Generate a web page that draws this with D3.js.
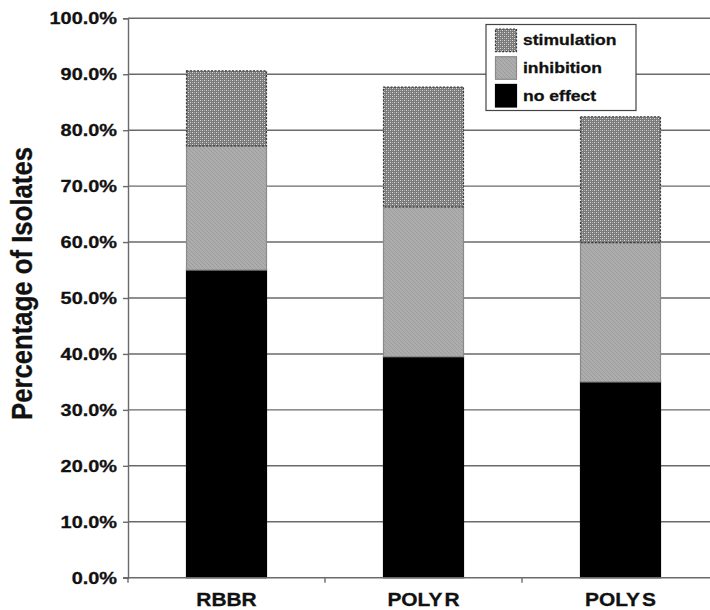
<!DOCTYPE html>
<html><head><meta charset="utf-8">
<script src="https://cdn.jsdelivr.net/npm/d3@7"></script>
<style>
html,body{margin:0;padding:0;background:#fff;}
svg text{font-family:"Liberation Sans",Arial,sans-serif;font-weight:bold;fill:#111;stroke:#111;stroke-width:0.3px;}
</style></head>
<body><svg id="c" width="710" height="610"></svg>
<script>
const categories = ["RBBR", "POLY R", "POLY S"];
const seriesNames = ["no effect", "inhibition", "stimulation"];
const noEffect = [55.0, 39.5, 35.0];
const inhibition = [22.2, 26.8, 24.9];
const stimulation = [13.4, 21.4, 22.5];
const yTicks = [0,10,20,30,40,50,60,70,80,90,100];
const yTitle = "Percentage of Isolates";

const rows = categories.map((c,i)=>({cat:c,"no effect":noEffect[i],"inhibition":inhibition[i],"stimulation":stimulation[i]}));
const svg = d3.select("#c");
const L = 128, R = 719, T = 18.3, B = 577.7;
const x = d3.scaleBand().domain(categories).range([L,R]).paddingInner(0.594).paddingOuter(0.297);
const y = d3.scaleLinear().domain([0,100]).range([B,T]);

const defs = svg.append("defs");
const ps = defs.append("pattern").attr("id","pStim").attr("patternUnits","userSpaceOnUse").attr("width",4).attr("height",4);
ps.append("rect").attr("width",4).attr("height",4).attr("fill","#7a7a7a");
ps.append("rect").attr("x",0).attr("y",0).attr("width",1).attr("height",1).attr("fill","#dcdcdc");
ps.append("rect").attr("x",2).attr("y",2).attr("width",1).attr("height",1).attr("fill","#dcdcdc");
ps.append("rect").attr("x",2).attr("y",0).attr("width",1).attr("height",1).attr("fill","#a8a8a8");
ps.append("rect").attr("x",0).attr("y",2).attr("width",1).attr("height",1).attr("fill","#a8a8a8");
const pi = defs.append("pattern").attr("id","pInh").attr("patternUnits","userSpaceOnUse").attr("width",4).attr("height",4);
pi.append("rect").attr("width",4).attr("height",4).attr("fill","#adadad");
pi.append("path").attr("d","M0,0L4,4M-1,3L1,5M3,-1L5,1").attr("stroke","#9c9c9c").attr("stroke-width",1);

const fills = {"no effect":"#000","inhibition":"url(#pInh)","stimulation":"url(#pStim)"};
const strokes = {"no effect":"#000","inhibition":"#8a8a8a","stimulation":"#3a3a3a"};
const dashes = {"no effect":null,"inhibition":null,"stimulation":"2,1.5"};

// gridlines
svg.append("g").selectAll("line").data(yTicks.filter(d=>d>0)).join("line")
  .attr("x1",L).attr("x2",710).attr("y1",d=>y(d)).attr("y2",d=>y(d))
  .attr("stroke","#6a6a6a").attr("stroke-width",1.4);

// bars
const stack = d3.stack().keys(seriesNames)(rows);
svg.append("g").selectAll("g").data(stack).join("g").each(function(s){
  d3.select(this).selectAll("rect").data(s).join("rect")
    .attr("x",d=>x(d.data.cat)).attr("width",x.bandwidth())
    .attr("y",d=>y(d[1])).attr("height",d=>y(d[0])-y(d[1]))
    .attr("fill",fills[s.key]).attr("stroke",strokes[s.key]).attr("stroke-width",1.2)
    .attr("stroke-dasharray",dashes[s.key]);
});

// y axis
const sx = 1.17;
const ya = svg.append("g").attr("transform",`translate(${L},0)`)
  .call(d3.axisLeft(y).tickValues(yTicks).tickSize(5).tickPadding(11).tickFormat(d=>d.toFixed(1)+"%"));
ya.select(".domain").attr("stroke","#6a6a6a").attr("stroke-width",1.4);
ya.selectAll(".tick line").attr("stroke","#6a6a6a").attr("stroke-width",1.4);
ya.selectAll(".tick text").attr("font-family",null).attr("font-size",null)
  .style("font-size","17px").attr("x",-11/sx).attr("transform",`scale(${sx},1)`).attr("fill","#111");

// x axis
const xa = svg.append("g").attr("transform",`translate(0,${B})`)
  .call(d3.axisBottom(x).tickSize(0).tickPadding(0));
xa.select(".domain").remove();
xa.selectAll(".tick text").remove();
svg.append("line").attr("x1",L-5).attr("x2",710).attr("y1",B).attr("y2",B).attr("stroke","#6a6a6a").attr("stroke-width",1.4);
const bounds = categories.slice(1).map(c=>x(c)-x.step()*x.paddingInner()/2);
svg.append("g").selectAll("line").data(bounds).join("line")
  .attr("x1",d=>d).attr("x2",d=>d).attr("y1",B).attr("y2",B+5).attr("stroke","#6a6a6a").attr("stroke-width",1.4);
svg.append("line").attr("x1",L).attr("x2",L).attr("y1",B).attr("y2",B+5).attr("stroke","#6a6a6a").attr("stroke-width",1.4);
const csx = 1.1;
svg.append("g").selectAll("text").data(categories).join("text")
  .attr("transform",d=>`translate(${x(d)+x.bandwidth()/2},605.5) scale(${csx},1)`)
  .attr("text-anchor","middle").style("font-size","19px").style("word-spacing","-3px").text(d=>d);

// y title
svg.append("text").attr("transform","translate(32,283.5) rotate(-90)")
  .attr("text-anchor","middle").style("font-size","29px")
  .attr("textLength",273).attr("lengthAdjust","spacingAndGlyphs").text(yTitle);

// legend
const lg = svg.append("g");
lg.append("rect").attr("x",486).attr("y",24.5).attr("width",150).attr("height",86)
  .attr("fill","#fff").attr("stroke","#444").attr("stroke-width",1.2);
const legendItems = ["stimulation","inhibition","no effect"];
const ly = d3.scaleBand().domain(legendItems).range([28,107]).paddingInner(0.15);
legendItems.forEach(k=>{
  lg.append("rect").attr("x",495.5).attr("y",ly(k)+1).attr("width",21).attr("height",ly.bandwidth()-1)
    .attr("fill",fills[k]).attr("stroke",strokes[k]).attr("stroke-width",1.2).attr("stroke-dasharray",dashes[k]);
  lg.append("text").attr("transform",`translate(523,${ly(k)+ly.bandwidth()/2+5.5}) scale(1.17,1)`)
    .style("font-size","15px").text(k);
});
</script></body></html>
